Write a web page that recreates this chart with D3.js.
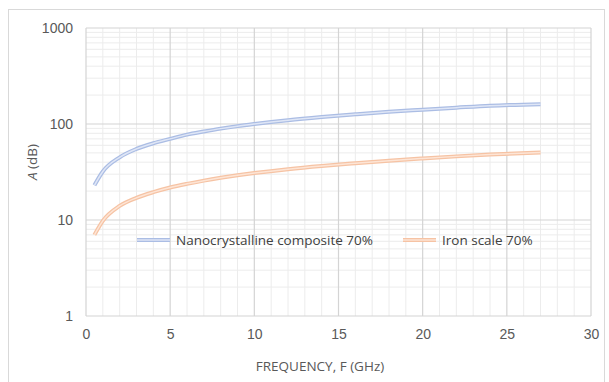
<!DOCTYPE html>
<html>
<head>
<meta charset="utf-8">
<script src="https://cdn.jsdelivr.net/npm/d3@7"></script>
<style>
  html, body { margin: 0; padding: 0; background: #fff; }
  svg { display: block; font-family: "Open Sans", "Liberation Sans", sans-serif; }
</style>
</head>
<body>
<svg id="chart" width="609" height="382"></svg>
<script>
// ---- data ----
const frequency = [0.5, 1, 2, 3, 4, 5, 6, 7, 8, 9, 10, 12, 14, 16, 18, 20, 22, 24, 27];
const nanocrystalline = [23, 32, 45, 55, 63, 70, 77.5, 83.5, 89.5, 95, 100, 109.5, 118, 126, 134, 141, 148, 155, 161];
const ironScale = [7, 9.8, 14, 17, 19.5, 21.8, 23.8, 25.7, 27.5, 29.2, 30.8, 33.8, 36.5, 39, 41.5, 43.8, 46, 48, 50.5];
const seriesNames = ["Nanocrystalline composite 70%", "Iron scale 70%"];
const xTicks = [0, 5, 10, 15, 20, 25, 30];
const yTicks = [1, 10, 100, 1000];

const svg = d3.select("#chart");
const W = 609, H = 382;
const margin = { left: 86, right: 18, top: 28, bottom: 66 };

// chart border
svg.append("rect").attr("x", 8.5).attr("y", 9.5).attr("width", 596).attr("height", 380)
  .attr("fill", "none").attr("stroke", "#d9d9d9").attr("stroke-width", 1);

const x = d3.scaleLinear().domain([0, 30]).range([margin.left, W - margin.right]);
const y = d3.scaleLog().domain([1, 1000]).range([H - margin.bottom, margin.top]);

// minor grid
const minorX = d3.range(0, 31, 1).filter(v => v % 5 !== 0);
const minorY = [];
[1, 10, 100].forEach(d => { for (let k = 2; k <= 9; k++) minorY.push(d * k); });

const grid = svg.append("g");
grid.selectAll(".mx").data(minorX).join("line")
  .attr("x1", d => x(d)).attr("x2", d => x(d))
  .attr("y1", y(1)).attr("y2", y(1000))
  .attr("stroke", "#ececec").attr("stroke-width", 1);
grid.selectAll(".my").data(minorY).join("line")
  .attr("x1", x(0)).attr("x2", x(30))
  .attr("y1", d => y(d)).attr("y2", d => y(d))
  .attr("stroke", "#ececec").attr("stroke-width", 1);
// major grid
grid.selectAll(".Mx").data(xTicks).join("line")
  .attr("x1", d => x(d)).attr("x2", d => x(d))
  .attr("y1", y(1)).attr("y2", y(1000))
  .attr("stroke", "#d4d4d4").attr("stroke-width", 1.2);
grid.selectAll(".My").data(yTicks).join("line")
  .attr("x1", x(0)).attr("x2", x(30))
  .attr("y1", d => y(d)).attr("y2", d => y(d))
  .attr("stroke", "#d4d4d4").attr("stroke-width", 1.2);

// axes (labels only)
const xAxis = d3.axisBottom(x).tickValues(xTicks).tickSize(0).tickPadding(13).tickFormat(d3.format("d"));
const gx = svg.append("g").attr("transform", `translate(0,${y(1)})`).call(xAxis);
gx.select(".domain").remove();
gx.selectAll("text").attr("fill", "#595959").style("font-size", "14px");

const yAxis = d3.axisLeft(y).tickValues(yTicks).tickSize(0).tickPadding(13).tickFormat(d3.format("d"));
const gy = svg.append("g").attr("transform", `translate(${x(0)},0)`).call(yAxis);
gy.select(".domain").remove();
gy.selectAll("text").attr("fill", "#595959").style("font-size", "14px");

// lines
const line = d3.line().x(d => x(d[0])).y(d => y(d[1])).curve(d3.curveMonotoneX);
const series = [
  { name: seriesNames[0], values: nanocrystalline, edge: "#abbde4", fill: "#dfe6f6" },
  { name: seriesNames[1], values: ironScale, edge: "#f6c3a4", fill: "#fde5d6" }
];
series.forEach(s => {
  const pts = frequency.map((f, i) => [f, s.values[i]]);
  svg.append("path").attr("d", line(pts)).attr("fill", "none")
    .attr("stroke", s.edge).attr("stroke-width", 4);
  svg.append("path").attr("d", line(pts)).attr("fill", "none")
    .attr("stroke", s.fill).attr("stroke-width", 1.5);
});

// legend
const legendItems = [
  { x1: 137, text: seriesNames[0], s: series[0] },
  { x1: 403, text: seriesNames[1], s: series[1] }
];
legendItems.forEach(it => {
  const ly = 240;
  svg.append("line").attr("x1", it.x1).attr("x2", it.x1 + 33).attr("y1", ly).attr("y2", ly)
    .attr("stroke", it.s.edge).attr("stroke-width", 4);
  svg.append("line").attr("x1", it.x1).attr("x2", it.x1 + 33).attr("y1", ly).attr("y2", ly)
    .attr("stroke", it.s.fill).attr("stroke-width", 1.5);
  svg.append("text").attr("x", it.x1 + 39).attr("y", ly + 5)
    .attr("fill", "#404040").style("font-size", "13.5px").text(it.text);
});

// axis titles
svg.append("text").attr("transform", "translate(37,162) rotate(-90)")
  .attr("text-anchor", "middle").attr("fill", "#595959").style("font-size", "13.5px")
  .html('<tspan font-style="italic">A</tspan> (dB)');
svg.append("text").attr("x", 320).attr("y", 371)
  .attr("text-anchor", "middle").attr("fill", "#595959").style("font-size", "13.5px")
  .text("FREQUENCY, F (GHz)");
</script>
</body>
</html>
